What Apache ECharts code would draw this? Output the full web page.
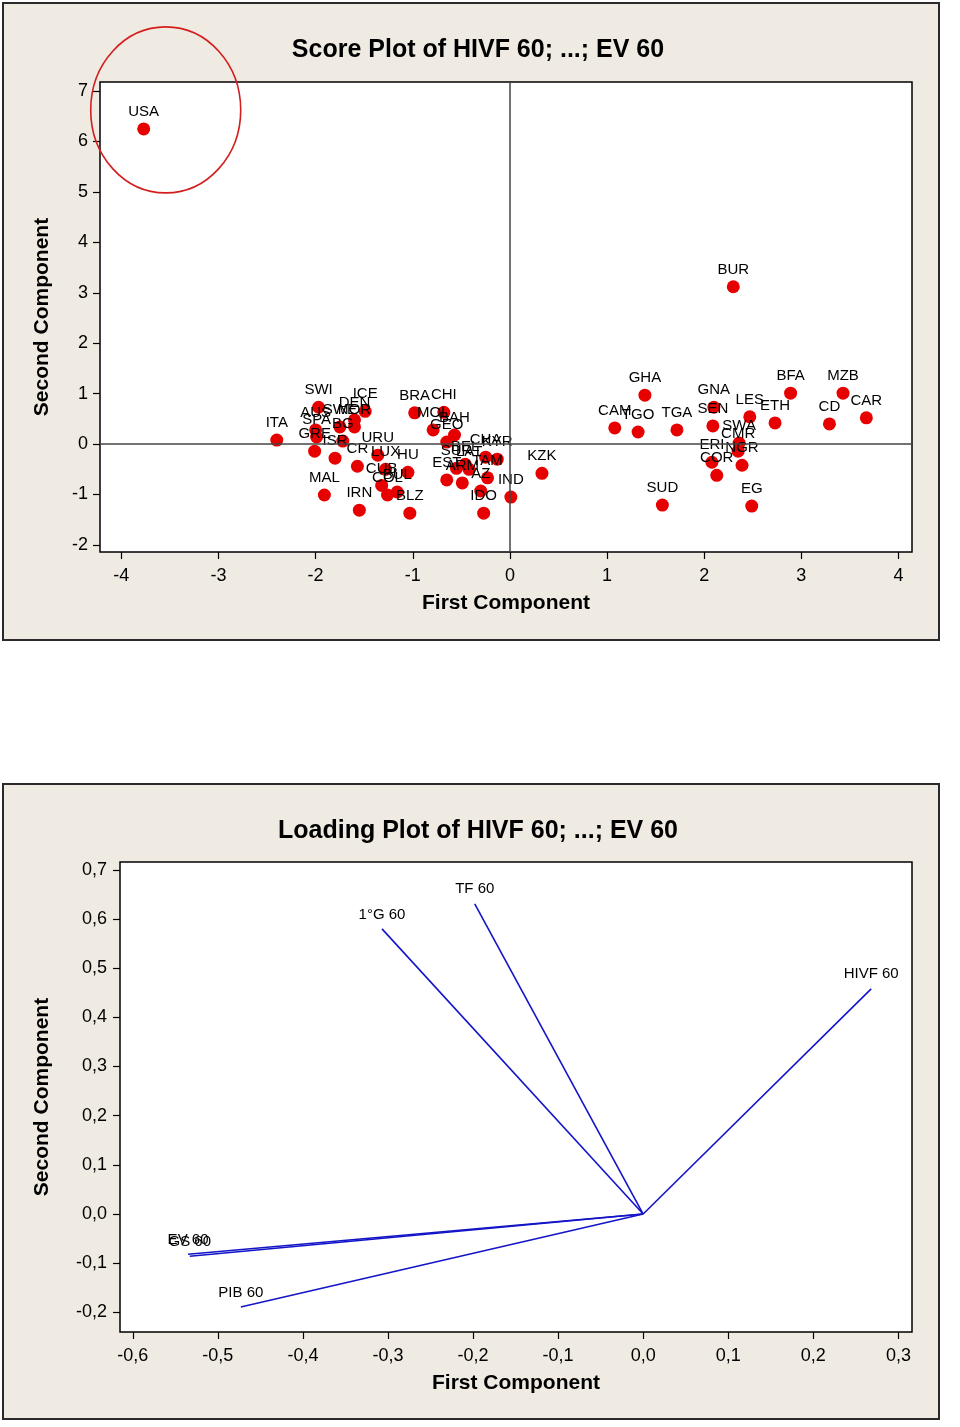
<!DOCTYPE html>
<html><head><meta charset="utf-8">
<script src="https://cdn.jsdelivr.net/npm/echarts@6/dist/echarts.min.js"></script>
<style>html,body{margin:0;padding:0;background:#fff}#c{width:960px;height:1427px}</style>
</head><body><div id="c"></div>
<script>
// ---- Score plot data ----
const scoreLabels = ['USA','BUR','GHA','CAM','TGO','TGA','GNA','SEN','LES','ETH','BFA','MZB','CD','CAR','SWA','CMR','NGR','ERI','COR','SUD','EG',
  'KZK','IND','IDO','AZ','TAM','CHA','KYR','BEL','SUR','LAT','EST','ARM','GEO','BAH','MOL','CHI','BRA',
  'BLZ','HU','IRN','CUB','COL','BUL','URU','LUX','CR','ISR','MAL','GRE','SPA','AUS','BG','SWE','NOR','DEN','ICE','SWI','ITA'];
const scoreX = [-3.77,2.30,1.39,1.08,1.32,1.72,2.10,2.09,2.47,2.73,2.89,3.43,3.29,3.67,2.36,2.35,2.39,2.08,2.13,1.57,2.49,
  0.33,0.01,-0.27,-0.30,-0.23,-0.25,-0.13,-0.46,-0.55,-0.42,-0.65,-0.49,-0.65,-0.57,-0.79,-0.68,-0.98,
  -1.03,-1.05,-1.55,-1.32,-1.26,-1.16,-1.36,-1.28,-1.57,-1.80,-1.91,-2.01,-1.99,-2.00,-1.72,-1.75,-1.60,-1.60,-1.49,-1.97,-2.40];
const scoreY = [6.25,3.12,0.97,0.32,0.24,0.28,0.73,0.36,0.54,0.42,1.01,1.01,0.40,0.52,0.02,-0.14,-0.42,-0.36,-0.62,-1.21,-1.23,
  -0.58,-1.05,-1.37,-0.93,-0.67,-0.26,-0.30,-0.40,-0.48,-0.50,-0.71,-0.77,0.04,0.18,0.28,0.63,0.62,
  -1.37,-0.56,-1.31,-0.82,-1.01,-0.95,-0.22,-0.50,-0.44,-0.28,-1.01,-0.14,0.14,0.28,0.06,0.34,0.34,0.48,0.65,0.73,0.08];
const scoreXTicks = [-4,-3,-2,-1,0,1,2,3,4];
const scoreYTicks = [-2,-1,0,1,2,3,4,5,6,7];

// ---- Loading plot data ----
const loadLabels = ['HIVF 60','TF 60','1°G 60','GS 60','EV 60','PIB 60'];
const loadX = [0.268,-0.198,-0.307,-0.533,-0.535,-0.473];
const loadY = [0.458,0.631,0.580,-0.086,-0.082,-0.189];
const loadXTicks = [-0.6,-0.5,-0.4,-0.3,-0.2,-0.1,0.0,0.1,0.2,0.3];
const loadYTicks = [-0.2,-0.1,0.0,0.1,0.2,0.3,0.4,0.5,0.6,0.7];

const FONT = "'Liberation Sans', Arial, sans-serif";
const comma = v => v.toFixed(1).replace('.', ',');

function axis(grid, min, max, ticks, fmt, name, gap, margin) {
  return {
    gridIndex: grid, type: 'value', min: min, max: max,
    splitLine: {show: false},
    axisLine: {show: false, onZero: false},
    axisTick: {show: true, length: 7, customValues: ticks, lineStyle: {color: '#000', width: 1.2}},
    axisLabel: {customValues: ticks, formatter: fmt, fontSize: 18, color: '#000', fontFamily: FONT, margin: margin},
    name: name, nameLocation: 'middle', nameGap: gap,
    nameTextStyle: {fontSize: 21, fontWeight: 'bold', color: '#000', fontFamily: FONT}
  };
}

const chart = echarts.init(document.getElementById('c'), null, {renderer: 'canvas'});

const loadSeries = loadLabels.map((lab, i) => ({
  type: 'line', name: lab, xAxisIndex: 1, yAxisIndex: 1, symbol: 'circle', symbolSize: 0, showSymbol: true, silent: true,
  itemStyle: {color: '#1414C8'},
  lineStyle: {color: '#1414C8', width: 1.6},
  label: {show: false},
  data: [
    {value: [0, 0]},
    {value: [loadX[i], loadY[i]], label: {show: true, position: 'top', distance: 7, formatter: lab,
      color: '#000', fontSize: 15, fontFamily: FONT, opacity: 1}}
  ]
}));

const option = {
  animation: false,
  graphic: [
    {type: 'rect', z: -10, shape: {x: 3, y: 3, width: 936, height: 637}, style: {fill: '#EFEBE2', stroke: '#2a2a2a', lineWidth: 2}},
    {type: 'rect', z: -10, shape: {x: 3, y: 784, width: 936, height: 635}, style: {fill: '#EFEBE2', stroke: '#2a2a2a', lineWidth: 2}},
    {type: 'text', x: 478, y: 50, style: {text: 'Score Plot of HIVF 60; ...; EV 60', fill: '#000', font: 'bold 25px ' + FONT, align: 'center', verticalAlign: 'middle'}},
    {type: 'text', x: 478, y: 831, style: {text: 'Loading Plot of HIVF 60; ...; EV 60', fill: '#000', font: 'bold 25px ' + FONT, align: 'center', verticalAlign: 'middle'}}
  ],
  grid: [
    {left: 100, top: 82, width: 812, height: 470, show: true, backgroundColor: '#fff', borderColor: '#000', borderWidth: 1.5},
    {left: 120, top: 862, width: 792, height: 470, show: true, backgroundColor: '#fff', borderColor: '#000', borderWidth: 1.5}
  ],
  xAxis: [
    axis(0, -4.22, 4.14, scoreXTicks, v => String(v), 'First Component', 41, 15),
    axis(1, -0.615, 0.316, loadXTicks, comma, 'First Component', 41, 15)
  ],
  yAxis: [
    axis(0, -2.14, 7.18, scoreYTicks, v => String(v), 'Second Component', 47, 12),
    axis(1, -0.24, 0.716, loadYTicks, comma, 'Second Component', 67, 13)
  ],
  series: [
    {
      type: 'scatter', xAxisIndex: 0, yAxisIndex: 0, symbol: 'circle', symbolSize: 13,
      itemStyle: {color: '#E60000', opacity: 1},
      label: {show: true, position: 'top', distance: 3, formatter: '{b}', color: '#000', fontSize: 15, fontFamily: FONT},
      markLine: {
        silent: true, symbol: 'none', label: {show: false}, animation: false,
        lineStyle: {color: '#444', type: 'solid', width: 1.5},
        data: [{xAxis: 0}, {yAxis: 0}]
      },
      data: scoreX.map((x, i) => ({name: scoreLabels[i], value: [x, scoreY[i]]}))
    },
    ...loadSeries
  ]
};
chart.setOption(option);

// annotation ellipse around USA
const p = chart.convertToPixel({gridIndex: 0}, [scoreX[0], scoreY[0]]);
option.graphic.push({type: 'ellipse', z: 100, shape: {cx: p[0] + 22, cy: p[1] - 19, rx: 75, ry: 83},
  style: {fill: 'none', stroke: '#D41E1E', lineWidth: 1.6}});
chart.setOption({graphic: option.graphic});
</script>
</body></html>
